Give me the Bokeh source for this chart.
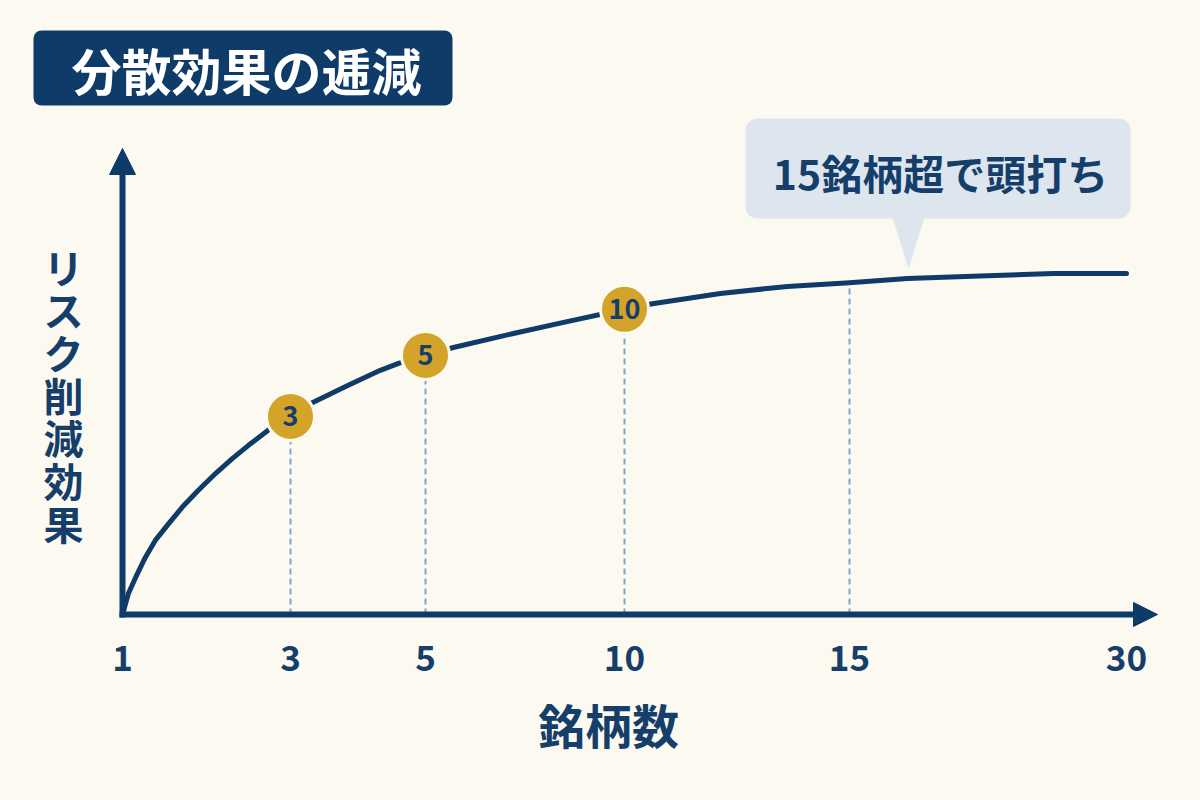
import numpy as np
from bokeh.plotting import figure
from bokeh.models import Range1d, BoxAnnotation, Arrow, NormalHead
from bokeh.core.properties import value
from bokeh.embed import file_html
from bokeh.resources import INLINE

# ---------------- data ----------------
tick_stocks = [1, 3, 5, 10, 15, 30]
tick_labels = ["1", "3", "5", "10", "15", "30"]
curve_stocks = [1, 1.07, 1.155, 1.27, 1.39, 1.55, 1.71, 1.90, 2.11, 2.31, 2.50, 2.73, 3,
                3.33, 3.84, 4.33, 4.60, 5, 5.70, 7.21, 8.47, 10, 10.62, 12.13, 13.62, 15,
                18.14, 22.47, 26.05, 30]
curve_effect = [0, 4.5, 7.9, 12.2, 15.9, 19.5, 23.0, 26.6, 30.3, 33.5, 36.3, 39.5, 42.5,
                45.5, 49.1, 52.4, 53.9, 55.6, 57.3, 60.3, 62.7, 65.5, 66.7, 68.9, 70.4, 71.2,
                72.1, 72.7, 73.2, 73.2]
marker_stocks = [3, 5, 10]
marker_labels = ["3", "5", "10"]
marker_effect = [42.5, 55.6, 65.5]
guide_stocks = [3, 5, 10, 15]
guide_effect = [42.5, 55.6, 65.5, 71.2]
title_text = "分散効果の逓減"
callout_text = "15銘柄超で頭打ち"
x_title = "銘柄数"
y_title = "リスク削減効果"

# ---------------- layout / style ----------------
axis_pos = [0, 168, 303, 502, 727, 1004]   # drawn position of each tick along the x axis
BG = "#FCF9F0"
NAVY = "#0F3B69"
TEXT = "#153E6B"
GOLD = "#D4A32A"
CALLOUT = "#DDE5EE"
GUIDE = "#7FA3CC"
FONT = value("Noto Sans CJK JP")
PX_PER_UNIT = 4.66


def sx(n):
    return np.interp(n, tick_stocks, axis_pos)


def X(px):
    return px - 122


def Y(py):
    return (614 - py) / PX_PER_UNIT


p = figure(width=1200, height=800, x_range=Range1d(X(0), X(1200)), y_range=Range1d(Y(800), Y(0)),
           x_axis_location=None, y_axis_location=None, toolbar_location=None,
           output_backend="svg", min_border=0)
p.grid.visible = False
p.outline_line_color = None
p.background_fill_color = BG
p.border_fill_color = BG

# title box
p.add_layout(BoxAnnotation(left=X(33), right=X(452), top=Y(30), bottom=Y(105), fill_color=NAVY,
                           fill_alpha=1, line_color=None, border_radius=8, level="underlay"))
p.text(x=[X(246)], y=[Y(68)], text=[title_text], text_color="white", text_font=FONT,
       text_font_size="50px", text_font_style="bold", text_align="center", text_baseline="middle")

# callout
p.add_layout(BoxAnnotation(left=X(745), right=X(1130), top=Y(118), bottom=Y(218), fill_color=CALLOUT,
                           fill_alpha=1, line_color=None, border_radius=12, level="underlay"))
p.patch(x=[X(892), X(924), X(908)], y=[Y(217), Y(217), Y(268)], fill_color=CALLOUT, line_color=None)
p.text(x=[X(940)], y=[Y(171)], text=[callout_text], text_color=TEXT, text_font=FONT,
       text_font_size="41px", text_font_style="bold", text_align="center", text_baseline="middle")

# guides
gx = sx(guide_stocks)
p.segment(x0=gx, y0=[0] * len(gx), x1=gx, y1=guide_effect, line_color=GUIDE, line_width=2,
          line_dash="6 4")

# curve
p.line(x=sx(curve_stocks), y=curve_effect, line_color=NAVY, line_width=5, line_cap="round",
       line_join="round")

# markers
mx = sx(marker_stocks)
p.scatter(x=mx, y=marker_effect, size=48, fill_color=GOLD, line_color=BG, line_width=3)
p.text(x=mx, y=marker_effect, text=marker_labels, text_color=TEXT, text_font=FONT,
       text_font_size="27px", text_font_style="bold", text_align="center", text_baseline="middle")

# axes
p.add_layout(Arrow(x_start=X(122), y_start=Y(617), x_end=X(122), y_end=Y(148), line_color=NAVY,
                   line_width=6, end=NormalHead(size=26, fill_color=NAVY, line_color=NAVY)))
p.add_layout(Arrow(x_start=X(119), y_start=Y(614), x_end=X(1157), y_end=Y(614), line_color=NAVY,
                   line_width=6, end=NormalHead(size=24, fill_color=NAVY, line_color=NAVY)))

# tick labels
p.text(x=sx(tick_stocks), y=[Y(657)] * len(tick_stocks), text=tick_labels, text_color=TEXT,
       text_font=FONT, text_font_size="35px", text_font_style="bold", text_align="center",
       text_baseline="middle")

# axis titles
p.text(x=[X(608)], y=[Y(723)], text=[x_title], text_color=TEXT, text_font=FONT,
       text_font_size="47px", text_font_style="bold", text_align="center", text_baseline="middle")
ychars = list(y_title)
ypos = [Y(v) for v in np.linspace(266, 522, len(ychars))]
p.text(x=[X(63)] * len(ychars), y=ypos, text=ychars, text_color=TEXT, text_font=FONT,
       text_font_size="40px", text_font_style="bold", text_align="center", text_baseline="middle")

open("out.html", "w").write(file_html(p, INLINE))
